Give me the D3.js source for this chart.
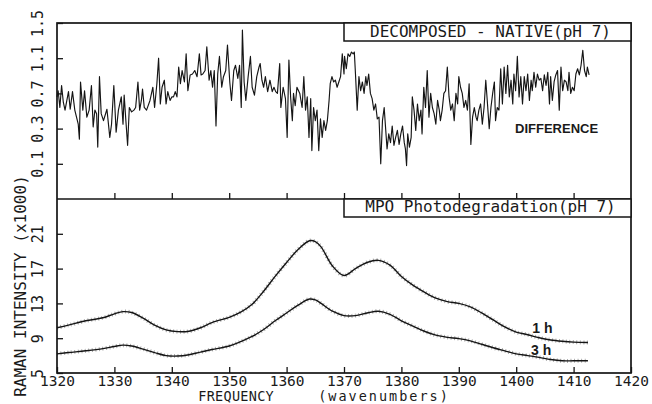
<!DOCTYPE html>
<html><head><meta charset="utf-8">
<script src="https://cdn.jsdelivr.net/npm/d3@7"></script>
<style>
html,body{margin:0;padding:0;background:#fff;}
svg{display:block;}
text{font-family:"DejaVu Sans Mono",monospace;fill:#1a1a1a;}
</style></head><body>
<svg id="c" width="652" height="404"></svg>
<script>
// ---------- data ----------
const freqTicks = [1320,1330,1340,1350,1360,1370,1380,1390,1400,1410,1420];
const topTicks = [-0.1,0.3,0.7,1.1,1.5];
const topTickLabels = ["0.1","0.3","0.7","1.1","1.5"];
const botTicks = [5,9,13,17,21];
const botTickLabels = ["5","9","13","17","21"];
const topTitle = "DECOMPOSED - NATIVE(pH 7)";
const botTitle = "MPO Photodegradation(pH 7)";
const xTitleParts = ["FREQUENCY","(wavenumbers)"];
const yTitle = "RAMAN INTENSITY (x1000)";
const seriesLabels = ["1 h","3 h"];
const diffLabel = "DIFFERENCE";

// difference spectrum [wavenumber, value]
const difference = [
[1320.0,.66],[1320.2,.73],[1320.5,.54],[1320.8,.79],[1321.1,.60],[1321.4,.51],[1322.0,.72],[1322.3,.52],[1322.7,.72],[1323.1,.51],
[1323.7,.35],[1323.9,.18],[1324.1,.83],[1324.5,.51],[1324.8,.73],[1325.2,.43],[1325.6,.51],[1326.0,.79],[1326.3,.32],[1326.6,.51],
[1326.9,.47],[1327.1,.09],[1327.4,.89],[1327.7,.47],[1328.1,.39],[1328.7,.52],[1329.2,.20],[1329.5,.35],[1329.9,.79],[1330.3,.26],
[1330.7,.51],[1331.2,.66],[1331.5,.35],[1331.7,.68],[1332.0,.39],[1332.3,.11],[1332.6,.54],[1333.0,.49],[1333.4,.51],[1333.7,.54],
[1334.1,.83],[1334.4,.51],[1334.7,.62],[1334.9,.75],[1335.2,.54],[1335.6,.51],[1336.2,.62],[1336.7,.77],[1337.0,.54],[1337.4,.81],
[1337.7,1.10],[1338.0,.58],[1338.3,.77],[1338.7,.85],[1339.0,.58],[1339.3,.72],[1339.7,.62],[1340.0,.66],[1340.3,.66],[1340.6,.72],
[1340.9,.66],[1341.2,1.00],[1341.5,.81],[1341.8,.96],[1342.2,.83],[1342.5,1.15],[1342.8,.73],[1343.2,.91],[1343.6,.92],[1344.0,.96],
[1344.4,.89],[1344.8,1.15],[1345.1,.91],[1345.4,.92],[1345.8,.96],[1346.1,1.23],[1346.5,.85],[1346.8,.96],[1347.1,.77],[1347.4,.96],
[1347.7,.33],[1348.0,.92],[1348.3,1.12],[1348.7,.77],[1349.0,.89],[1349.4,.96],[1349.7,1.25],[1350.1,.83],[1350.4,.62],[1350.8,.96],
[1351.1,1.02],[1351.5,.87],[1351.8,1.02],[1352.1,.54],[1352.3,1.42],[1352.6,.83],[1352.9,.62],[1353.3,.89],[1353.7,1.12],[1354.0,.77],
[1354.4,.68],[1354.8,.89],[1355.2,1.00],[1355.4,1.04],[1355.7,.85],[1356.0,.77],[1356.3,.89],[1356.7,.72],[1357.1,.85],[1357.5,.72],
[1357.8,.77],[1358.1,.72],[1358.4,.70],[1358.8,1.04],[1359.0,.54],[1359.4,.77],[1359.8,.64],[1360.1,.20],[1360.4,1.08],[1360.7,.66],
[1361.0,.39],[1361.2,.70],[1361.5,.56],[1361.8,.77],[1362.3,.70],[1362.7,.54],[1363.0,.89],[1363.3,.51],[1363.6,.66],[1363.9,.20],
[1364.2,.64],[1364.4,.05],[1364.7,.54],[1365.0,.39],[1365.3,.51],[1365.6,.05],[1365.9,.41],[1366.2,.20],[1366.5,.39],[1366.8,.28],
[1367.1,.39],[1367.4,.62],[1367.6,.81],[1367.9,.89],[1368.2,.83],[1368.5,.85],[1368.8,.77],[1369.1,.83],[1369.4,.89],[1369.7,1.15],
[1370.0,.92],[1370.1,1.12],[1370.4,.98],[1370.7,1.15],[1371.0,1.12],[1371.3,1.17],[1371.6,1.15],[1371.8,1.17],[1372.0,.92],[1372.3,.51],
[1372.6,.89],[1372.9,.73],[1373.2,.83],[1373.5,.70],[1373.8,.89],[1374.0,.79],[1374.3,.92],[1374.6,.70],[1374.9,.64],[1375.2,.51],
[1375.5,.58],[1375.8,.41],[1376.1,.43],[1376.4,-.10],[1376.7,.39],[1377.0,.54],[1377.2,.35],[1377.5,.07],[1377.8,.24],[1378.1,.14],
[1378.4,.33],[1378.7,.11],[1379.0,.20],[1379.3,.28],[1379.6,.12],[1379.9,.24],[1380.2,.33],[1380.5,.14],[1380.7,.07],[1380.9,-.12],
[1381.1,.24],[1381.4,.09],[1381.7,.20],[1381.9,.66],[1382.2,.51],[1382.5,.28],[1382.8,.58],[1383.1,.39],[1383.4,.51],[1383.6,.24],
[1383.9,.77],[1384.2,.54],[1384.5,.96],[1384.8,.43],[1385.1,.70],[1385.4,.54],[1385.7,.47],[1386.0,.35],[1386.3,.62],[1386.6,.51],
[1386.8,.39],[1387.1,.51],[1387.4,.70],[1387.7,.73],[1388.0,1.00],[1388.3,.66],[1388.6,.51],[1388.9,.58],[1389.2,.39],[1389.5,.70],
[1389.8,.58],[1390.0,.89],[1390.3,.77],[1390.6,.70],[1390.9,.54],[1391.2,.62],[1391.5,.51],[1391.8,.81],[1392.1,.12],[1392.4,.43],
[1392.7,.54],[1393.0,.43],[1393.2,.39],[1393.5,.51],[1393.8,.58],[1394.1,.35],[1394.4,.54],[1394.7,.85],[1395.0,.58],[1395.3,.30],
[1395.6,.54],[1395.9,.70],[1396.2,.83],[1396.4,.39],[1396.7,.54],[1397.0,.51],[1397.3,.98],[1397.6,.58],[1397.9,1.00],[1398.2,.70],
[1398.5,1.02],[1398.8,.66],[1399.1,.85],[1399.4,.58],[1399.6,.92],[1399.9,.73],[1400.2,1.12],[1400.5,.66],[1400.8,.89],[1401.1,.58],
[1401.4,.89],[1401.7,.73],[1402.0,.92],[1402.3,.62],[1402.6,.85],[1402.8,.73],[1403.1,.94],[1403.4,.77],[1403.7,.92],[1404.0,.85],
[1404.3,.87],[1404.6,.73],[1404.9,.91],[1405.2,.79],[1405.5,.94],[1405.8,.58],[1406.0,.89],[1406.3,.62],[1406.6,.83],[1406.9,.91],
[1407.2,.96],[1407.5,.51],[1407.8,1.00],[1408.1,.73],[1408.4,.85],[1408.7,.83],[1409.0,.73],[1409.2,.94],[1409.5,.70],[1409.8,.77],
[1410.1,.73],[1410.4,.92],[1410.7,.98],[1411.0,.91],[1411.3,1.02],[1411.6,1.19],[1411.9,.96],[1412.2,.89],[1412.4,1.00],[1412.7,.91]
];

// photodegradation spectra (x1000)
const curveFreq = [1320,1322,1325,1328,1330,1331.5,1333,1335,1337,1339,1341,1343,1345,1347,1350,1352,1354,1356,1358,1360,1362,1364,1365,1366,1368,1370,1372,1374,1376,1378,1380,1382,1384,1386,1388,1390,1392,1394,1396,1398,1400,1402,1404,1406,1408,1410,1412.5];
const oneHour = [10.2,10.5,11.0,11.35,11.8,12.05,11.95,11.3,10.5,9.95,9.75,9.8,10.2,10.8,11.4,12.0,12.9,14.4,16.1,17.7,19.2,20.2,20.1,19.5,17.3,16.2,17.0,17.7,17.95,17.4,16.1,15.1,14.3,13.6,13.2,13.0,12.6,11.9,11.1,10.3,9.7,9.4,9.05,8.8,8.65,8.55,8.5];
const threeHour = [7.2,7.35,7.55,7.8,8.05,8.2,8.1,7.75,7.35,7.0,6.95,7.1,7.4,7.7,8.1,8.6,9.2,10.0,11.0,11.9,12.8,13.5,13.4,13.0,12.1,11.6,11.6,11.9,12.1,11.75,11.0,10.4,9.8,9.35,9.1,8.95,8.7,8.3,7.9,7.55,7.2,7.0,6.8,6.55,6.4,6.4,6.4];

// ---------- layout ----------
const L = 57, R = 631, T = 23, MID = 199, B = 373;
const svg = d3.select("#c");
const x = d3.scaleLinear().domain([1320,1420]).range([L,R]);
const yTop = d3.scaleLinear().domain([-0.5,1.5]).range([MID,T]);
const yBot = d3.scaleLinear().domain([5,25]).range([B,MID]);
const ink = "#151515";
const mono = "'DejaVu Sans Mono',monospace";

// difference trace
const diffLine = d3.line().x(d=>x(d[0])).y(d=>yTop(d[1]));
svg.append("path").datum(difference).attr("d",diffLine)
  .attr("fill","none").attr("stroke",ink).attr("stroke-width",1.15).attr("stroke-linejoin","round");

// spectra: dotted raw-data fuzz + smooth fit line
const specLine = d3.line().curve(d3.curveCatmullRom.alpha(0.5))
  .x((d,i)=>x(curveFreq[i])).y(d=>yBot(d));
[oneHour,threeHour].forEach(s=>{
  svg.append("path").datum(s).attr("d",specLine).attr("fill","none")
    .attr("stroke","#8a8a8a").attr("stroke-width",4).attr("stroke-dasharray","1 2.5").attr("opacity",0.7);
  svg.append("path").datum(s).attr("d",specLine).attr("fill","none")
    .attr("stroke",ink).attr("stroke-width",1.4);
});

// frame
svg.append("rect").attr("x",L).attr("y",T).attr("width",R-L).attr("height",B-T)
  .attr("fill","none").attr("stroke",ink).attr("stroke-width",1.7);
svg.append("line").attr("x1",L).attr("x2",R).attr("y1",MID).attr("y2",MID)
  .attr("stroke",ink).attr("stroke-width",1.7);

// x axes (ticks pointing up, inside)
const xAxis = d3.axisBottom(x).tickValues(freqTicks).tickSize(-6).tickPadding(3).tickFormat(d3.format("d"));
const gx = svg.append("g").attr("transform",`translate(0,${B})`).call(xAxis);
gx.select(".domain").remove();
gx.selectAll("text").attr("font-size",14.5).attr("fill",ink).style("font-family",mono);
const gx2 = svg.append("g").attr("transform",`translate(0,${MID})`)
  .call(d3.axisBottom(x).tickValues(freqTicks.slice(1,-1)).tickSize(-6).tickFormat(""));
gx2.select(".domain").remove();
svg.selectAll(".tick line").attr("stroke",ink).attr("stroke-width",1.3);

// y axes with rotated labels
function yAxis(scale, vals, labels){
  const g = svg.append("g").attr("transform",`translate(${L},0)`)
    .call(d3.axisLeft(scale).tickValues(vals).tickSize(-6).tickFormat((d,i)=>labels[i]));
  g.select(".domain").remove();
  g.selectAll(".tick line").attr("stroke",ink).attr("stroke-width",1.3);
  g.selectAll("text").attr("x",null).attr("dy",null).attr("text-anchor","middle")
    .attr("transform","translate(-14,0) rotate(-90)")
    .attr("font-size",15).attr("fill",ink).style("font-family",mono);
  return g;
}
yAxis(yTop, topTicks, topTickLabels);
yAxis(yBot, botTicks, botTickLabels);

// axis titles
const xt = svg.append("text").attr("y",401).attr("font-size",13.5);
xt.append("tspan").attr("x",x(1344.6)).attr("letter-spacing",0.3).text(xTitleParts[0]);
xt.append("tspan").attr("x",x(1365.5)).attr("letter-spacing",2).text(xTitleParts[1]);
svg.append("text").attr("transform","translate(26,286) rotate(-90)").attr("text-anchor","middle")
  .attr("font-size",16).text(yTitle);

// panel title boxes
const bx0 = x(1370);
svg.append("rect").attr("x",bx0).attr("y",T).attr("width",R-bx0).attr("height",18)
  .attr("fill","#fff").attr("stroke",ink).attr("stroke-width",1.5);
svg.append("text").attr("x",(bx0+R)/2+3).attr("y",T+14).attr("text-anchor","middle")
  .attr("font-size",16).text(topTitle);
svg.append("rect").attr("x",bx0).attr("y",MID).attr("width",R-bx0).attr("height",18)
  .attr("fill","#fff").attr("stroke",ink).attr("stroke-width",1.5);
svg.append("text").attr("x",(bx0+R)/2+3).attr("y",MID+13).attr("text-anchor","middle")
  .attr("font-size",16).text(botTitle);

// annotations
const bold = "'Liberation Sans',Arial,sans-serif";
svg.append("text").attr("x",x(1399.8)).attr("y",yTop(0.25)).attr("font-size",13).attr("font-weight","bold")
  .style("font-family",bold).text(diffLabel);
svg.append("text").attr("x",x(1402.8)).attr("y",yBot(9.6)).attr("font-size",14).attr("font-weight","bold")
  .style("font-family",bold).text(seriesLabels[0]);
svg.append("text").attr("x",x(1402.6)).attr("y",yBot(7.05)).attr("font-size",14).attr("font-weight","bold")
  .style("font-family",bold).text(seriesLabels[1]);
</script>
</body></html>
